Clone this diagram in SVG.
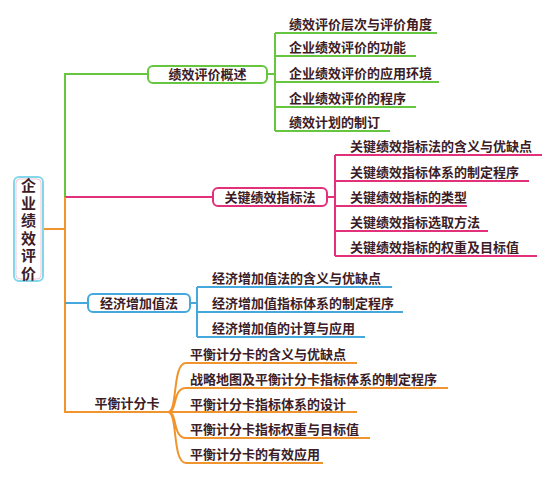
<svg xmlns="http://www.w3.org/2000/svg" width="553" height="482" viewBox="0 0 553 482">
<style>
text{font-family:"Noto Sans CJK SC","Noto Sans CJK TC",sans-serif;font-size:13px;fill:#3c1c26;font-weight:bold}
.g{stroke:#66c640;fill:none;stroke-width:2}
.p{stroke:#e2307a;fill:none;stroke-width:2}
.b{stroke:#44a8dc;fill:none;stroke-width:2}
.o{stroke:#f0952e;fill:none;stroke-width:2}
.box{fill:#fff;stroke-width:2}
</style>
<rect width="553" height="482" fill="#fff"/>
<g id="connectors">
<path class="o" d="M43 229H65"/>
<path class="g" d="M65 198V74H148"/>
<path class="p" d="M65 197H213"/>
<path class="o" d="M65 197V412H168"/>
<path class="b" d="M65 303H88"/>
<path class="g" d="M267 74H275M275 33V131M275 33H437M275 56H416M275 82H439M275 107H416M275 131H390"/>
<path class="p" d="M327 197H335M335 155V256M335 155H542M335 181H529M335 206H467M335 231H488M335 256H537"/>
<path class="b" d="M190 303H197M197 287V337M197 287H392M197 312H403M197 337H365"/>
<path class="o" d="M168 412C178 412 172 363 186 363H357M168 412C178 412 172 388 186 388H448M168 412H357M168 412C178 412 172 438 186 438H370M168 412C178 412 172 463 186 463H323"/>
</g>
<g id="root">
<rect x="14" y="177" width="29" height="104" rx="5" fill="#fff" stroke="#82d8ea" stroke-width="2"/>
<rect x="16" y="179" width="25" height="100" rx="4" fill="none" stroke="#f4c4d4" stroke-width="1"/>
<text x="28.5" y="178" style="writing-mode:vertical-rl;font-size:15px;letter-spacing:2.5px">企业绩效评价</text>
</g>
<g id="n1">
<rect class="box" x="148" y="66" width="119" height="17" rx="5" stroke="#66c640"/>
<text x="207.5" y="79" text-anchor="middle">绩效评价概述</text>
</g>
<g id="n1c">
<text x="289" y="29">绩效评价层次与评价角度</text>
<text x="289" y="52">企业绩效评价的功能</text>
<text x="289" y="78">企业绩效评价的应用环境</text>
<text x="289" y="103">企业绩效评价的程序</text>
<text x="289" y="127">绩效计划的制订</text>
</g>
<g id="n2">
<rect class="box" x="213" y="188" width="114" height="18" rx="5" stroke="#e2307a"/>
<text x="270" y="202" text-anchor="middle">关键绩效指标法</text>
</g>
<g id="n2c">
<text x="350" y="151">关键绩效指标法的含义与优缺点</text>
<text x="350" y="177">关键绩效指标体系的制定程序</text>
<text x="350" y="202">关键绩效指标的类型</text>
<text x="350" y="227">关键绩效指标选取方法</text>
<text x="350" y="252">关键绩效指标的权重及目标值</text>
</g>
<g id="n3">
<rect class="box" x="88" y="294" width="102" height="18" rx="5" stroke="#44a8dc"/>
<text x="139" y="308" text-anchor="middle">经济增加值法</text>
</g>
<g id="n3c">
<text x="212" y="283">经济增加值法的含义与优缺点</text>
<text x="212" y="308">经济增加值指标体系的制定程序</text>
<text x="212" y="333">经济增加值的计算与应用</text>
</g>
<g id="n4">
<text x="127" y="408" text-anchor="middle">平衡计分卡</text>
</g>
<g id="n4c">
<text x="190" y="359">平衡计分卡的含义与优缺点</text>
<text x="190" y="384">战略地图及平衡计分卡指标体系的制定程序</text>
<text x="190" y="409">平衡计分卡指标体系的设计</text>
<text x="190" y="434">平衡计分卡指标权重与目标值</text>
<text x="190" y="459">平衡计分卡的有效应用</text>
</g>
</svg>
